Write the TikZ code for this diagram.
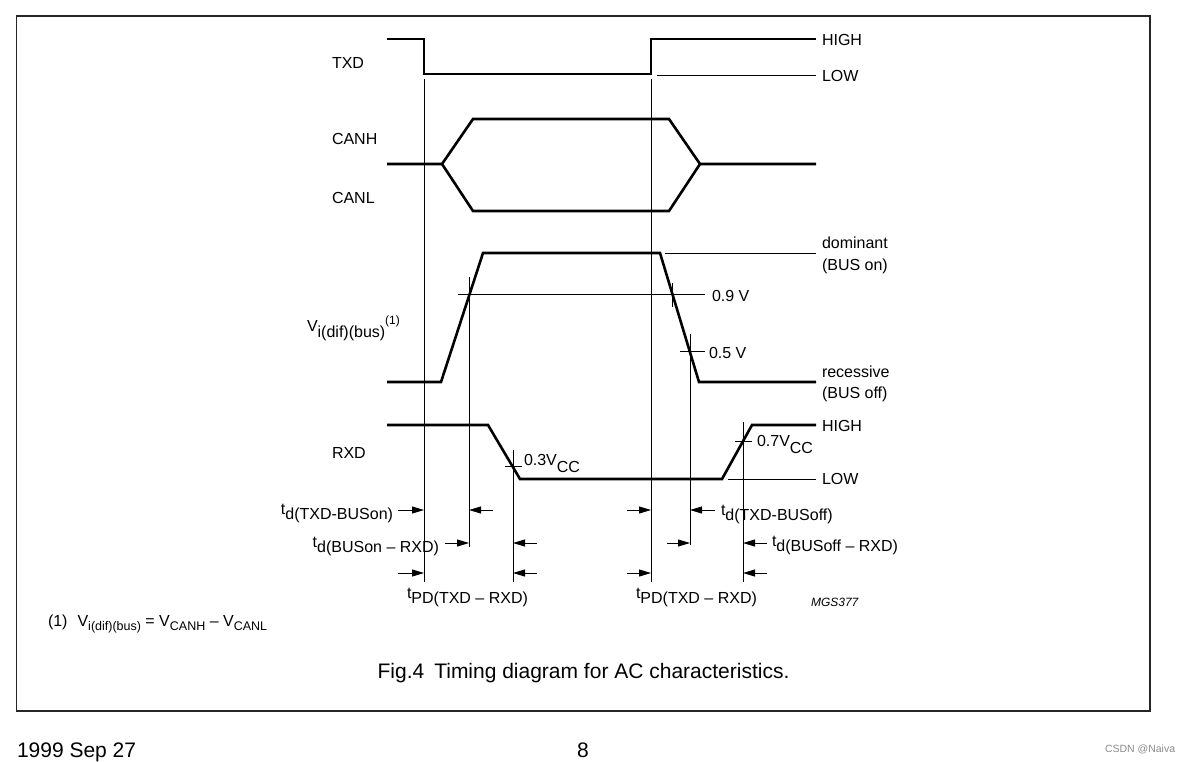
\documentclass[tikz,border=0pt]{standalone}
\usepackage{fontspec}
\setmainfont{Liberation Sans}
\usetikzlibrary{arrows.meta}
\newcommand\lsub[1]{\raisebox{-5pt}{#1}}
\newcommand\ccsub[1]{\raisebox{-7pt}{#1}}
\begin{document}
\begin{tikzpicture}[x=1pt,y=-1pt,
  sig/.style={line width=2.6pt},
  refl/.style={line width=0.9pt},
  dimarrow/.style={line width=0.9pt,-{Triangle[length=12pt,width=7pt]}},
  lbl/.style={anchor=base west,inner sep=0pt,outer sep=0pt,font=\fontsize{16}{19}\selectfont},
  lble/.style={lbl,anchor=base east},
  frame/.style={line width=1.5pt,draw=black!85}]
\useasboundingbox (0,0) rectangle (1188,761);
\fill[white] (0,0) rectangle (1188,761);
\draw[frame] (16.5,16) rectangle (1150,711);

% ---------- TXD ----------
\coordinate (t0) at (387,39); \coordinate (t1) at (424,39);
\coordinate (t2) at (424,74); \coordinate (t3) at (651,74);
\coordinate (t4) at (651,39); \coordinate (t5) at (816,39);
\draw[sig] (t0) -- (t1) -- (t2) -- (t3) -- (t4) -- (t5);
\coordinate (tl0) at (657,75); \coordinate (tl1) at (816,75);
\draw[refl] (tl0) -- (tl1);
\node[lbl] (txd) at (332,68) {TXD};
\node[lbl] (txdh) at (822,45) {HIGH};
\node[lbl] (txdl) at (822,81) {LOW};

% ---------- CANH / CANL ----------
\coordinate (c0) at (387,164); \coordinate (c1) at (442,164);
\coordinate (ch1) at (473,119); \coordinate (ch2) at (669,119);
\coordinate (c2) at (700,164); \coordinate (c3) at (816,164);
\coordinate (cl1) at (473,211); \coordinate (cl2) at (669,211);
\draw[sig,line join=miter] (c0) -- (c1) -- (ch1) -- (ch2) -- (c2) -- (c3);
\draw[sig,line join=miter] (c1) -- (cl1) -- (cl2) -- (c2);
\node[lbl] (canh) at (332,144) {CANH};
\node[lbl] (canl) at (332,203) {CANL};

% ---------- Vi(dif)(bus) ----------
\coordinate (v0) at (387,382); \coordinate (v1) at (441,382);
\coordinate (v2) at (483,253); \coordinate (v3) at (660,253);
\coordinate (v4) at (699,382); \coordinate (v5) at (816,382);
\draw[sig,line join=miter] (v0) -- (v1) -- (v2) -- (v3) -- (v4) -- (v5);
\coordinate (dl0) at (665,253); \coordinate (dl1) at (816,253);
\draw[refl] (dl0) -- (dl1);
\coordinate (n9a) at (458,294); \coordinate (n9b) at (705,294);
\draw[refl] (n9a) -- (n9b);
\coordinate (k9a) at (672,283); \coordinate (k9b) at (672,307);
\draw[refl] (k9a) -- (k9b);
\coordinate (n5a) at (680,351); \coordinate (n5b) at (705,351);
\draw[refl] (n5a) -- (n5b);
\node[lbl] (vi) at (307,331) {V\raisebox{-6pt}{i(dif)(bus)}\raisebox{7pt}{\fontsize{12}{14}\selectfont(1)}};
\node[lbl] (dom) at (822,248) {dominant};
\node[lbl] (buson) at (822,270) {(BUS on)};
\node[lbl] (v09) at (712,301) {0.9 V};
\node[lbl] (v05) at (709,358) {0.5 V};
\node[lbl] (rec) at (822,377) {recessive};
\node[lbl] (busoff) at (822,398) {(BUS off)};

% ---------- RXD ----------
\coordinate (r0) at (387,425); \coordinate (r1) at (488,425);
\coordinate (r2) at (520,479); \coordinate (r3) at (722,479);
\coordinate (r4) at (752,425); \coordinate (r5) at (816,425);
\draw[sig,line join=miter] (r0) -- (r1) -- (r2) -- (r3) -- (r4) -- (r5);
\coordinate (rl0) at (728,479); \coordinate (rl1) at (816,479);
\draw[refl] (rl0) -- (rl1);
\coordinate (k3a) at (505,466); \coordinate (k3b) at (522,466);
\draw[refl] (k3a) -- (k3b);
\coordinate (k7a) at (735,441); \coordinate (k7b) at (752,441);
\draw[refl] (k7a) -- (k7b);
\node[lbl] (rxd) at (332,458) {RXD};
\node[lbl] (rxdh) at (822,431) {HIGH};
\node[lbl] (rxdl) at (822,484) {LOW};
\node[lbl] (v03) at (524,465) {0.3V\ccsub{CC}};
\node[lbl] (v07) at (757,446) {0.7V\ccsub{CC}};

% ---------- vertical reference lines ----------
\coordinate (a1t) at (424,79);  \coordinate (a1b) at (424,582);
\coordinate (a2t) at (469,277); \coordinate (a2b) at (469,547);
\coordinate (a3t) at (513,450); \coordinate (a3b) at (513,582);
\coordinate (b1t) at (651,79);  \coordinate (b1b) at (651,582);
\coordinate (b2t) at (690,334); \coordinate (b2b) at (690,545);
\coordinate (b3t) at (743,422); \coordinate (b3b) at (743,582);
\foreach \p in {a1,a2,a3,b1,b2,b3} \draw[refl] (\p t) -- (\p b);

% ---------- timing arrows ----------
\coordinate (s11) at (398,510); \coordinate (s12) at (493,510);
\coordinate (s13) at (627,510); \coordinate (s14) at (715,510);
\coordinate (s21) at (445,543); \coordinate (s22) at (537,543);
\coordinate (s23) at (667,543); \coordinate (s24) at (767,543);
\coordinate (s31) at (398,573); \coordinate (s32) at (537,573);
\coordinate (s33) at (627,573); \coordinate (s34) at (767,573);
\draw[dimarrow] (s11) -- (s11 -| a1t);
\draw[dimarrow] (s12) -- (s12 -| a2t);
\draw[dimarrow] (s13) -- (s13 -| b1t);
\draw[dimarrow] (s14) -- (s14 -| b2t);
\draw[dimarrow] (s21) -- (s21 -| a2t);
\draw[dimarrow] (s22) -- (s22 -| a3t);
\draw[dimarrow] (s23) -- (s23 -| b2t);
\draw[dimarrow] (s24) -- (s24 -| b3t);
\draw[dimarrow] (s31) -- (s31 -| a1t);
\draw[dimarrow] (s32) -- (s32 -| a3t);
\draw[dimarrow] (s33) -- (s33 -| b1t);
\draw[dimarrow] (s34) -- (s34 -| b3t);

\node[lble] (tdtxdon) at (393,514) {t\lsub{d(TXD-BUSon)}};
\node[lble] (tdbuson) at (439,547) {t\lsub{d(BUSon -- RXD)}};
\node[lbl] (tpd1) at (407,598) {t\lsub{PD(TXD -- RXD)}};
\node[lbl] (tdtxdoff) at (721,515) {t\lsub{d(TXD-BUSoff)}};
\node[lbl] (tdbusoff) at (772,546) {t\lsub{d(BUSoff -- RXD)}};
\node[lbl] (tpd2) at (636,598) {t\lsub{PD(TXD -- RXD)}};
\node[lbl,font=\fontsize{12}{14}\selectfont\itshape] (mgs) at (811,606) {MGS377};

% ---------- footnote, caption, footer ----------
\node[lbl] (fn) at (48,626) {(1)\hspace{10pt}V\raisebox{-4pt}{\fontsize{12.5}{14}\selectfont i(dif)(bus)} = V\raisebox{-4pt}{\fontsize{12.5}{14}\selectfont CANH} -- V\raisebox{-4pt}{\fontsize{12.5}{14}\selectfont CANL}};
\node[anchor=base,inner sep=0pt,font=\fontsize{21}{25}\selectfont] (cap) at (583.5,678) {Fig.4\hspace{10pt}Timing diagram for AC characteristics.};
\node[lbl,font=\fontsize{21}{25}\selectfont] (date) at (17,757) {1999 Sep 27};
\node[anchor=base,inner sep=0pt,font=\fontsize{21}{25}\selectfont] (page) at (583,757) {8};
\node[lbl,font=\fontsize{10.5}{12}\selectfont,text=black!45] (wm) at (1105,752) {CSDN @Naiva};
\end{tikzpicture}
\end{document}
